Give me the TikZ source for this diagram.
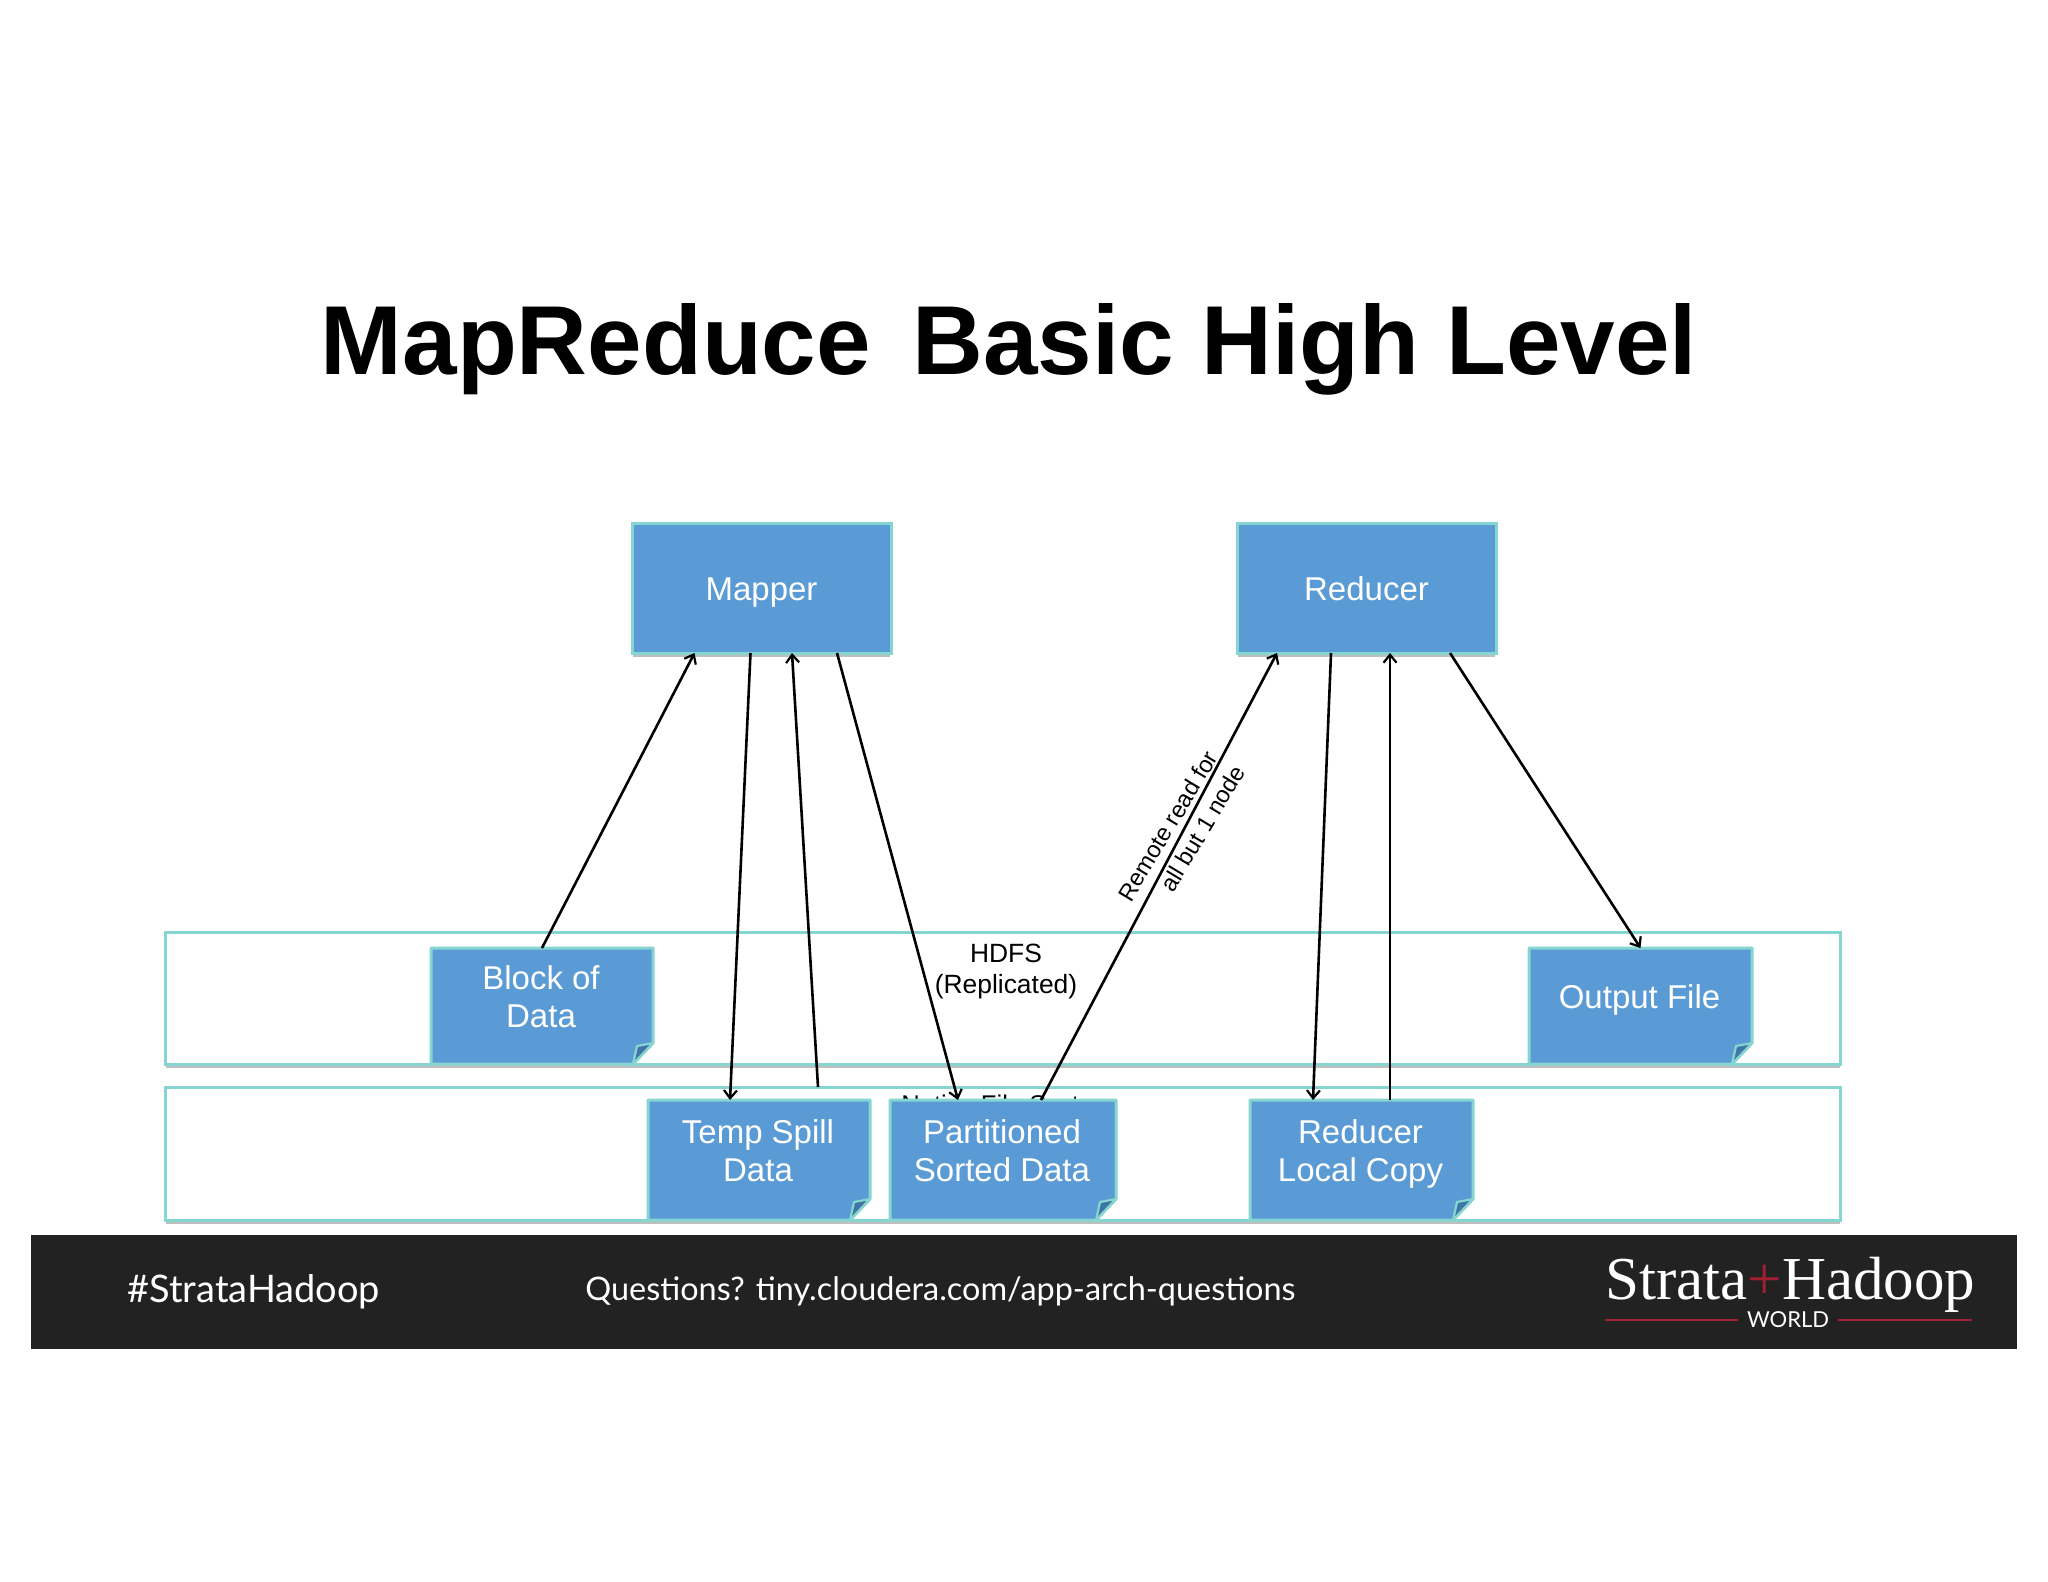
\documentclass[tikz,border=0pt]{standalone}
\usepackage{fontspec}
\setmainfont{Liberation Sans}
\newfontfamily\footfont{Lato}
\newfontfamily\logofont{Liberation Serif}
\usetikzlibrary{calc,arrows.meta}
\definecolor{boxblue}{HTML}{5B9BD5}
\definecolor{boxedge}{HTML}{85D5D0}
\definecolor{folddark}{HTML}{3F76A6}
\definecolor{bandblack}{HTML}{222222}
\definecolor{logored}{HTML}{A01F32}
\newcommand{\lowstrut}{\rule[-3.9pt]{0pt}{19.4pt}}
\tikzset{
  px/.style={x=0.5pt,y=-0.5pt},
  boxtext/.style={text=white,align=center,font=\fontsize{16.5}{19}\selectfont},
  smalltext/.style={text=black,align=center,font=\fontsize{13.2}{15.5}\selectfont},
  ghostbox/.style={inner sep=0pt,outer sep=0pt},
  flow/.style={draw=black,line width=1.3pt,-{Straight Barb[length=4pt,width=6.5pt,line width=1.1pt]}},
  tier/.style={draw=boxedge,line width=1.5pt,fill=white,inner sep=0pt,outer sep=0pt},
  shade/.style={draw=black!25,line width=1pt},
  mainbox/.style={draw=boxedge,line width=1.5pt,fill=boxblue,inner sep=0pt,outer sep=0pt},
}
% name, x1, y1, x2, y2, text
\newcommand{\notebox}[6]{%
  \draw[shade] (#2+1,#5+2) -- (#4-20,#5+2);
  \draw[draw=boxedge,line width=1.5pt,fill=boxblue,line join=round]
    (#2,#3) -- (#4,#3) -- (#4,#5-21) -- (#4-20,#5) -- (#2,#5) -- cycle;
  \draw[draw=boxedge,line width=1.1pt,fill=folddark,line join=round]
    (#4-20,#5) -- (#4,#5-21) -- (#4-16,#5-18) -- cycle;
  \node[ghostbox,minimum width=#4*0.5pt-#2*0.5pt,minimum height=#5*0.5pt-#3*0.5pt]
    (#1) at ({(#2+#4)/2},{(#3+#5)/2}) {};
  \node[boxtext] (#1T) at ({(#2+#4)/2-1},{(#3+#5)/2-5}) {\strut #6\strut};
}
\begin{document}
\begin{tikzpicture}[px]
\useasboundingbox (0,0) rectangle (2048,1582);
\fill[white] (0,0) rectangle (2048,1582);

\node[font=\fontsize{49}{58}\selectfont\bfseries,text=black] (title) at (1009,349) {MapReduce\hspace{0.15em} Basic High Level};

% storage tiers
\draw[shade] (166,1067) -- (1840,1067);
\draw[shade] (166,1223) -- (1840,1223);
\node[tier,minimum width=837.5pt,minimum height=66pt] (hdfs) at (1002.5,998) {};
\node[tier,minimum width=837.5pt,minimum height=66.5pt] (native) at (1002.5,1153.5) {};
\node[smalltext] (hdfsT) at (1006,972) {HDFS\\(Replicated)};
\node[smalltext,anchor=north,inner sep=0pt,font=\fontsize{12.8}{15}\selectfont] (nativeT) at (1008,1095) {Native File System};

% processes
\draw[shade] (633,656) -- (890,656);
\draw[shade] (1238,656) -- (1495,656);
\node[mainbox,minimum width=129.5pt,minimum height=64.5pt,boxtext] (mapper) at (761.5,588.5) {\lowstrut Mapper};
\node[mainbox,minimum width=129.5pt,minimum height=64.5pt,boxtext] (reducer) at (1366.5,588.5) {\lowstrut Reducer};

% files
\notebox{block}{431}{948}{653}{1064}{Block of\\Data}
\notebox{output}{1529}{948}{1752}{1064}{Output File}
\notebox{temp}{648}{1100}{870}{1220}{Temp Spill\\Data}
\notebox{part}{890}{1100}{1116}{1220}{Partitioned\\Sorted Data}
\notebox{rlocal}{1250}{1100}{1473}{1220}{Reducer\\Local Copy}

% connectors
\draw[flow] (block.north) -- ($(mapper.south)+(-67,0)$);
\draw[flow] ($(mapper.south)+(-11,0)$) -- ($(temp.north)+(-29,0)$);
\draw[flow] ($(temp.north)+(59,-13)$) -- ($(mapper.south)+(30.5,0)$);
\draw[flow] ($(mapper.south)+(75.5,0)$) -- ($(part.north)+(-45,0)$);
\draw[flow] ($(part.north)+(38,0)$) -- ($(reducer.south)+(-89.5,0)$);
\draw[flow] ($(reducer.south)+(-35.5,0)$) -- ($(rlocal.north)+(-48.5,0)$);
\draw[flow] ($(rlocal.north)+(28.5,0)$) -- ($(reducer.south)+(23.5,0)$);
\draw[flow] ($(reducer.south)+(83.5,0)$) -- (output.north);

\node[smalltext,rotate=59,font=\fontsize{11.8}{15.5}\selectfont] (remote) at (1181,834) {Remote read for\\\hspace*{16pt}all but 1 node};

% footer
\node[fill=bandblack,inner sep=0pt,outer sep=0pt,minimum width=993pt,minimum height=57pt] (band) at (1024,1292) {};
\node[text=white,font=\footfont\fontsize{19}{22}\selectfont,anchor=west,inner sep=0pt] (tag) at (127,1292) {\#StrataHadoop};
\node[text=white,font=\footfont\fontsize{16.2}{20}\selectfont,anchor=west,inner sep=0pt] (questions) at (585,1291) {Questions? tiny.cloudera.com/app-arch-questions};
\node[text=white,font=\logofont\fontsize{30.5}{34}\selectfont,anchor=base west,inner sep=0pt] (logo) at (1605,1299) {Strata\textcolor{logored}{+}Hadoop};
\node[text=white,font=\footfont\fontsize{11}{13}\selectfont,inner sep=0pt] (world) at (1788,1320) {WORLD};
\coordinate (redA) at (1605,1320);
\coordinate (redD) at (1972,1320);
\draw[logored,line width=0.8pt] (redA) -- (world.west -| 1738,1320);
\draw[logored,line width=0.8pt] (world.east -| 1838,1320) -- (redD);
\end{tikzpicture}
\end{document}
